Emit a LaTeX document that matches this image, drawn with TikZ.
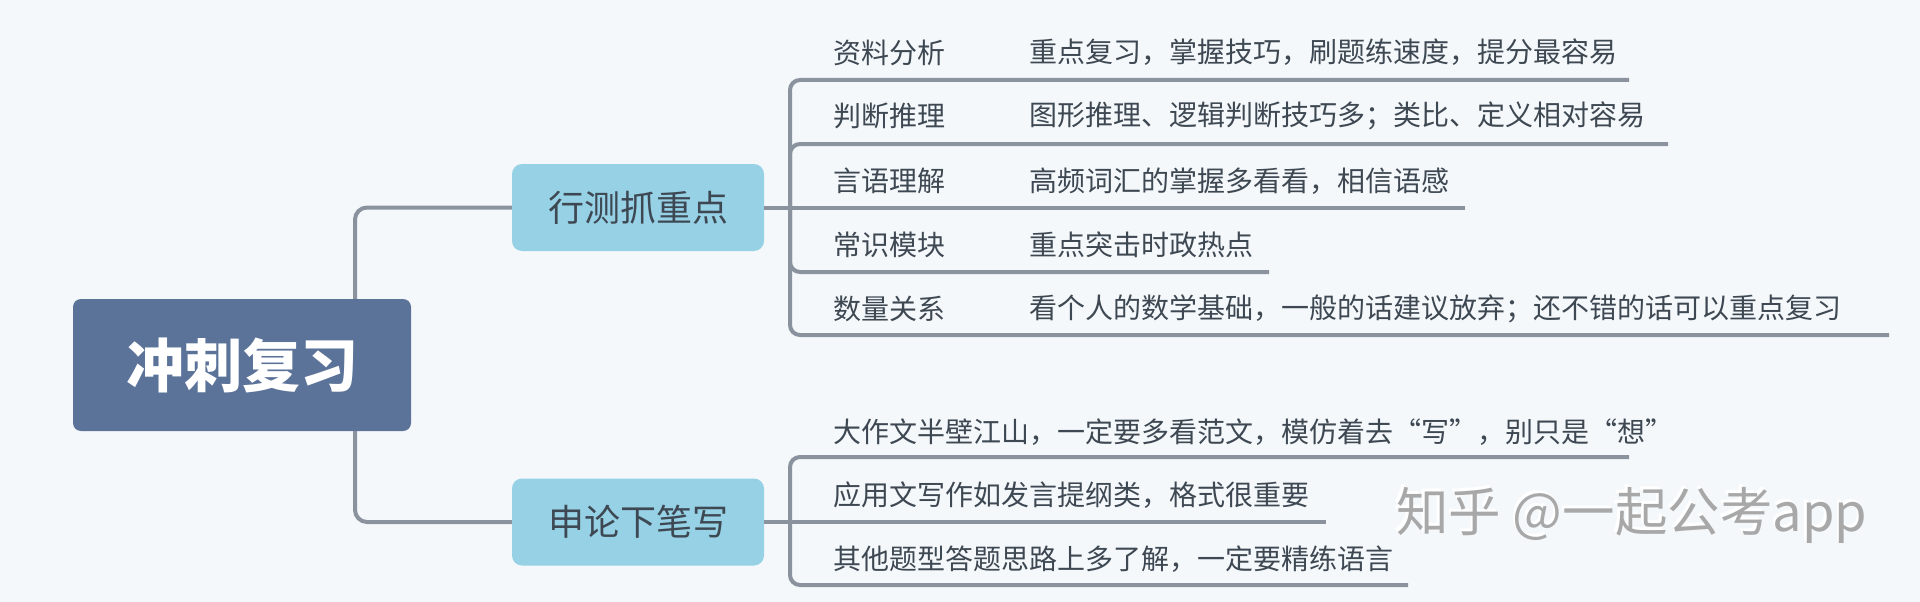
\documentclass[tikz,border=0pt]{standalone}
\usepackage{fontspec}
\setmainfont{Noto Sans CJK SC}
\definecolor{bgc}{HTML}{F4F8FB}
\definecolor{linec}{HTML}{8A929E}
\definecolor{rootc}{HTML}{5B7399}
\definecolor{topc}{HTML}{96D1E6}
\definecolor{txtc}{HTML}{3E4852}
\definecolor{wmc}{HTML}{A8A8A8}
\begin{document}
\begin{tikzpicture}[x=1pt,y=-1pt,
  conn/.style={draw=linec, line width=4pt, rounded corners=12pt},
  sub/.style={draw=linec, line width=4pt, rounded corners=10pt},
  rootbox/.style={fill=rootc, rounded corners=8pt, minimum width=338pt, minimum height=132pt, inner sep=0pt, text=white, font=\fontsize{58}{60}\selectfont\bfseries},
  topicbox/.style={fill=topc, rounded corners=10pt, minimum width=252pt, minimum height=87pt, inner sep=0pt, text=txtc, font=\fontsize{36}{40}\selectfont},
  lbl/.style={anchor=west, inner sep=0pt, text=txtc, font=\fontsize{28}{30}\selectfont},
  wmark/.style={anchor=west, inner sep=0pt, font=\fontsize{52.5}{56}\selectfont},
]
\fill[bgc] (0,0) rectangle (1920,602);
\useasboundingbox (0,0) rectangle (1920,602);

% main nodes
\node[rootbox] (root) at (242,365) {冲刺复习};
\node[topicbox] (xc) at (638,207.5) {行测抓重点};
\node[topicbox] (sl) at (638,522) {申论下笔写};

\draw[conn] ([xshift=113pt]root.north) |- (xc.west);
\draw[conn] ([xshift=113pt]root.south) |- (sl.west);

% 行测 branch
\coordinate (xcs) at (790,207.5);
\coordinate (xe1) at (1629,80);
\coordinate (xe2) at (1668,144);
\coordinate (xe3) at (1465,207.5);
\coordinate (xe4) at (1269,272);
\coordinate (xe5) at (1889,335);
\draw[sub] (xc.east) -- (xcs);
\draw[sub] (xcs) |- (xe1);
\draw[sub] (xcs) |- (xe2);
\draw[sub] (xcs) -- (xe3);
\draw[sub] (xcs) |- (xe4);
\draw[sub] (xcs) |- (xe5);

\node[lbl] (a1) at (833,52.5) {资料分析};
\node[lbl] (b1) at (1029,52.5) {重点复习，掌握技巧，刷题练速度，提分最容易};
\node[lbl] (a2) at (833,116) {判断推理};
\node[lbl] (b2) at (1029,116) {图形推理、逻辑判断技巧多；类比、定义相对容易};
\node[lbl] (a3) at (833,181) {言语理解};
\node[lbl] (b3) at (1029,181) {高频词汇的掌握多看看，相信语感};
\node[lbl] (a4) at (833,245) {常识模块};
\node[lbl] (b4) at (1029,245) {重点突击时政热点};
\node[lbl] (a5) at (833,309) {数量关系};
\node[lbl] (b5) at (1029,309) {看个人的数学基础，一般的话建议放弃；还不错的话可以重点复习};

% 申论 branch
\coordinate (sls) at (790,522);
\coordinate (se1) at (1629,457);
\coordinate (se2) at (1326,522);
\coordinate (se3) at (1408,585);
\draw[sub] (sl.east) -- (sls);
\draw[sub] (sls) |- (se1);
\draw[sub] (sls) -- (se2);
\draw[sub] (sls) |- (se3);

\node[lbl] (c1) at (833,432) {大作文半壁江山，一定要多看范文，模仿着去“写”，别只是“想”};
\node[lbl] (c2) at (833,495) {应用文写作如发言提纲类，格式很重要};
\node[lbl] (c3) at (833,559) {其他题型答题思路上多了解，一定要精练语言};

% watermark
\node[wmark, text=white] (wmw) at (1393.5,512.5) {知乎 @一起公考app};
\node[wmark, text=wmc] (wm) at (1396,515) {知乎 @一起公考app};
\end{tikzpicture}
\end{document}
